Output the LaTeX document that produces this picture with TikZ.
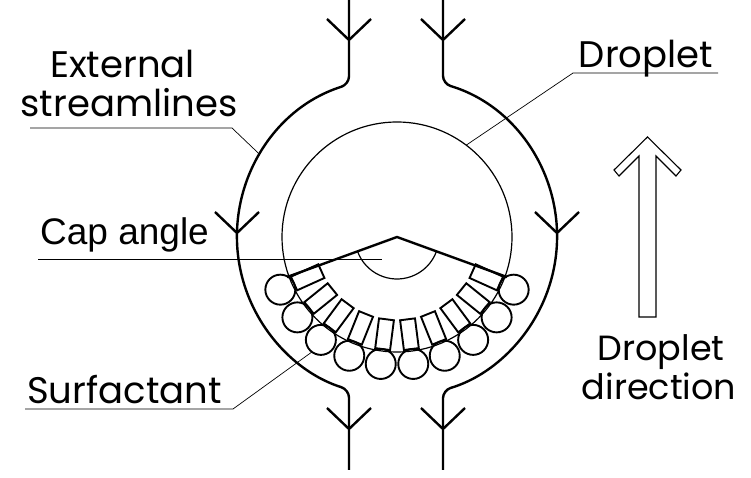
\documentclass[tikz,border=0pt]{standalone}
\usepackage{fontspec}
\setmainfont{Poppins}
\newfontfamily\capfont{Liberation Sans}
\usetikzlibrary{calc}

\begin{document}
\begin{tikzpicture}[x=1pt,y=1pt,
    stream/.style={line width=2.4pt,line join=round},
    surf/.style={line width=1.9pt},
    leader/.style={line width=0.7pt},
    label/.style={font=\fontsize{37}{40}\selectfont,inner sep=0pt,anchor=base}]

    \useasboundingbox (0,0) rectangle (751,478);
    \coordinate (c) at (397,241);

    % droplet and its cap
    \draw[line width=1.2pt] (c) circle[radius=115];
    \draw[stream] ($(c)+(200:117)$) -- (c) -- ($(c)+(340:117)$);
    \draw[line width=1.2pt] ($(c)+(200:42)$) arc[start angle=200,end angle=340,radius=42];

    % surfactant molecules, head out and tail in
    \foreach \k in {0,...,9}{
        \pgfmathsetmacro\a{204.3+14.6*\k}
        \draw[surf] ($(c)+(\a:128)$) circle[radius=15];
        \draw[surf,shift={(c)},rotate=\a] (83,-7.5) rectangle (113,7.5);
    }

    % external streamlines
    \draw[stream,rounded corners=8pt] (349,478) -- ($(c)+(107.46:160)$)
        arc[start angle=107.46,end angle=252.54,radius=160] -- (349,8);
    \draw[stream,rounded corners=8pt] (443,478) -- ($(c)+(73.3:160)$)
        arc[start angle=73.3,end angle=-73.3,radius=160] -- (443,8);
    \foreach \x/\y in {349/438,443/438,237/245,557/245,349/49,443/49}
        \draw[stream] (\x-22,\y+21) -- (\x,\y) -- (\x+22,\y+21);

    % direction arrow
    \draw[line width=1.1pt,line join=miter] (647.5,341) -- (614,308) -- (619,302) -- (639,322)
        -- (639,161) -- (656,161) -- (656,322) -- (676,302) -- (681,308) -- cycle;

    % labels
    \node[label] (ext1) at (122.5,400) {External};
    \node[label] (ext2) at (129,361) {streamlines};
    \node[label] (drop) at (646,410) {Droplet};
    \node[label,anchor=base west,font=\capfont\fontsize{37}{40}\selectfont] (cap) at (40,233) {Cap angle};
    \node[label,anchor=base west] (surfl) at (27,74) {Surfactant};
    \node[label,font=\fontsize{35}{40}\selectfont] (dir1) at (661,117) {Droplet};
    \node[label,font=\fontsize{35}{40}\selectfont] (dir2) at (659,78) {direction};

    % leaders
    \coordinate (extA) at (30,350);
    \coordinate (extB) at (232,350);
    \coordinate (dropA) at (718,405);
    \coordinate (dropB) at (573,405);
    \coordinate (surfA) at (25,69);
    \coordinate (surfB) at (233,69);
    \draw[leader] (extA) -- (extB) -- ($(c)+(149:160)$);
    \draw[leader] (dropA) -- (dropB) -- ($(c)+(53:115)$);
    \draw[leader] (38,219) -- (382,219);
    \draw[leader] (surfA) -- (surfB) -- ($(c)+(233.5:143)$);
\end{tikzpicture}
\end{document}
